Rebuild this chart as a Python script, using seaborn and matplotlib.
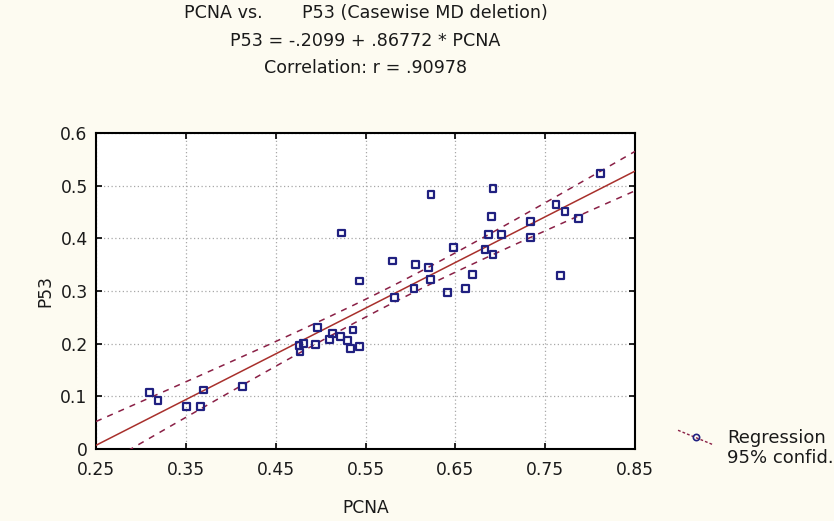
import numpy as np
import pandas as pd
import matplotlib
matplotlib.use("Agg")
import matplotlib.pyplot as plt
import seaborn as sns
from matplotlib.lines import Line2D
from matplotlib.legend_handler import HandlerLine2D

# ---- data ----
pcna = [0.310, 0.319, 0.351, 0.366, 0.370, 0.413, 0.477, 0.476, 0.481, 0.494,
        0.497, 0.510, 0.513, 0.522, 0.530, 0.533, 0.536, 0.543, 0.523, 0.543,
        0.580, 0.582, 0.604, 0.606, 0.620, 0.622, 0.623, 0.641, 0.648, 0.661,
        0.669, 0.683, 0.690, 0.692, 0.687, 0.692, 0.701, 0.734, 0.734, 0.762,
        0.767, 0.772, 0.787, 0.812]
p53 = [0.108, 0.092, 0.080, 0.080, 0.112, 0.118, 0.184, 0.197, 0.201, 0.198,
       0.230, 0.208, 0.219, 0.213, 0.206, 0.191, 0.226, 0.194, 0.410, 0.319,
       0.357, 0.288, 0.304, 0.351, 0.344, 0.322, 0.483, 0.297, 0.382, 0.304,
       0.332, 0.379, 0.442, 0.495, 0.407, 0.369, 0.407, 0.432, 0.401, 0.464,
       0.329, 0.451, 0.438, 0.523]
intercept = -0.2099
slope = 0.86772
corr_text = ".90978"
x_ticks = [0.25, 0.35, 0.45, 0.55, 0.65, 0.75, 0.85]
y_ticks = [0, 0.1, 0.2, 0.3, 0.4, 0.5, 0.6]
y_ticklabels = ["0", "0.1", "0.2", "0.3", "0.4", "0.5", "0.6"]

df = pd.DataFrame({"PCNA": pcna, "P53": p53})

# regression line and 95% confidence band of the mean
x = np.asarray(pcna)
y = np.asarray(p53)
n = len(x)
resid = y - (intercept + slope * x)
s = np.sqrt(np.sum(resid ** 2) / (n - 2))
sxx = np.sum((x - x.mean()) ** 2)
tval = 2.018
xg = np.linspace(x_ticks[0], x_ticks[-1], 200)
yg = intercept + slope * xg
half = tval * s * np.sqrt(1.0 / n + (xg - x.mean()) ** 2 / sxx)
fit = pd.DataFrame({"x": xg, "fit": yg, "lo": yg - half, "hi": yg + half})

# ---- style ----
sns.set_theme(style="white")
plt.rcParams["font.family"] = ["DejaVu Sans"]
plt.rcParams["text.color"] = "#1a1a1a"
FS = 12.3
TFS = 12.6
LFS = 13
bg = "#FDFBF1"
navy = "#202080"
red = "#A8302C"
dash_col = "#8A2046"

fig = plt.figure(figsize=(8.34, 5.21), dpi=100, facecolor=bg)
ax = fig.add_axes([0.1151, 0.1382, 0.6463, 0.6065])
ax.set_facecolor("white")

ax.grid(True, color="#A8A8A8", linestyle=(0, (1, 2)), linewidth=0.9)
ax.set_axisbelow(True)

sns.lineplot(data=fit, x="x", y="fit", ax=ax, color=red, lw=1.1, zorder=3)
sns.lineplot(data=fit, x="x", y="lo", ax=ax, color=dash_col, lw=1.1,
             linestyle=(0, (4, 4)), zorder=3)
sns.lineplot(data=fit, x="x", y="hi", ax=ax, color=dash_col, lw=1.1,
             linestyle=(0, (4, 4)), zorder=3)
sns.scatterplot(data=df, x="PCNA", y="P53", ax=ax, marker="s", s=24,
                facecolor="none", edgecolor=navy, linewidth=1.6, zorder=4)

ax.set_xlim(x_ticks[0], x_ticks[-1])
ax.set_ylim(y_ticks[0], y_ticks[-1])
ax.set_xticks(x_ticks)
ax.set_xticklabels([f"{t:.2f}" for t in x_ticks])
ax.set_yticks(y_ticks)
ax.set_yticklabels(y_ticklabels)
ax.tick_params(direction="in", length=4, width=1.2, colors="black",
               labelcolor="#1a1a1a",
               top=True, right=True, bottom=True, left=True,
               labelsize=FS)
ax.tick_params(axis="x", pad=9)
ax.tick_params(axis="y", pad=6)
for sp in ax.spines.values():
    sp.set_color("black")
    sp.set_linewidth(1.5)

ax.set_xlabel("PCNA", fontsize=FS, labelpad=14, color="#1a1a1a")
ax.set_ylabel("P53", fontsize=FS, labelpad=4, color="#1a1a1a")

cx = 0.1151 + 0.6463 / 2
fig.text(cx, 1 - 13 / 521, "PCNA vs.       P53 (Casewise MD deletion)",
         ha="center", va="center", fontsize=TFS)
fig.text(cx, 1 - 41 / 521, f"P53 = {str(intercept).replace('0.', '.')} + "
         f"{str(slope).replace('0.', '.')} * PCNA",
         ha="center", va="center", fontsize=TFS)
fig.text(cx, 1 - 68 / 521, f"Correlation: r = {corr_text}",
         ha="center", va="center", fontsize=TFS)


class DiagHandler(HandlerLine2D):
    def create_artists(self, legend, orig_handle, xdescent, ydescent,
                       width, height, fontsize, trans):
        xs = np.array([-xdescent, width - xdescent])
        yc = height / 2 + 0.62 * fontsize
        ys = np.array([yc + 0.4 * fontsize, yc - 0.4 * fontsize])
        ln = Line2D(xs, ys, color=dash_col, linestyle=(0, (2, 1.5)), lw=1.0)
        mk = Line2D([xs.mean()], [ys.mean()], marker="o", markersize=4.5,
                    mfc="none", mec=navy, mew=1.2, linestyle="none")
        ln.set_transform(trans)
        mk.set_transform(trans)
        return [ln, mk]


handle = Line2D([], [], color=dash_col)
leg = fig.legend([handle], ["Regression\n95% confid."],
                 handler_map={Line2D: DiagHandler()},
                 loc="center left", bbox_to_anchor=(0.813, 1 - 448 / 521),
                 frameon=False, fontsize=LFS, handlelength=1.94,
                 handletextpad=0.78, labelspacing=0.2, borderpad=0.0,
                 borderaxespad=0.0)

fig.savefig("out.png", dpi=100, facecolor=bg)
